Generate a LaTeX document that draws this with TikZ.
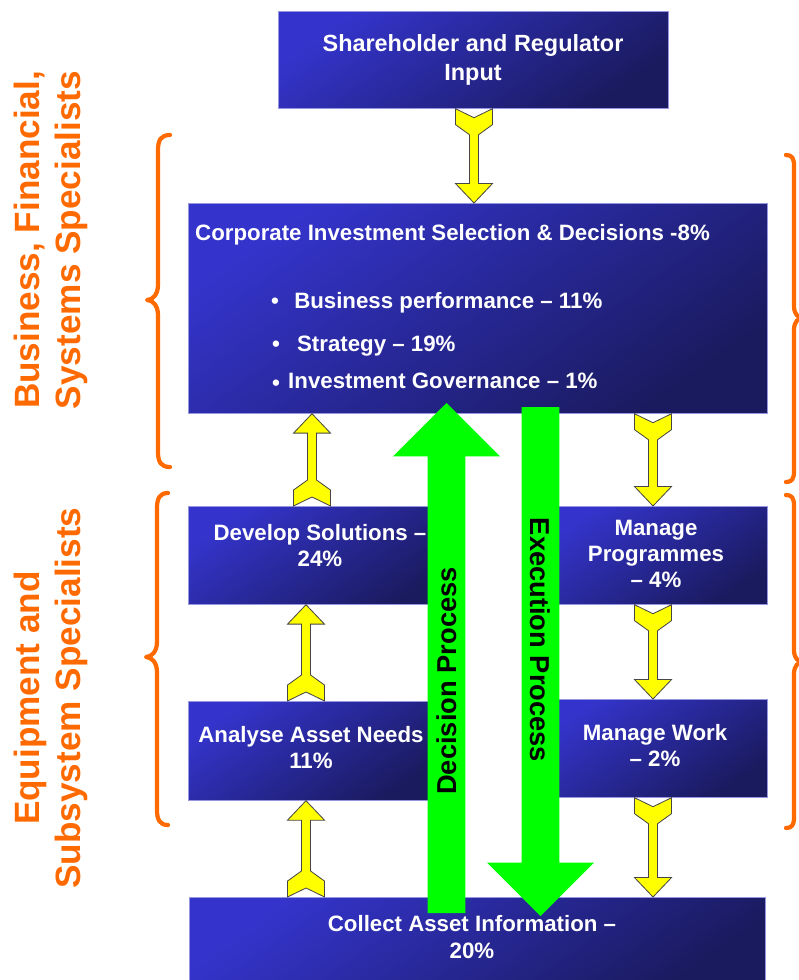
\documentclass[tikz,border=0pt]{standalone}
\usepackage{fontspec}
\setmainfont{Liberation Sans}
\usetikzlibrary{calc}

\definecolor{boxlight}{RGB}{52,52,204}
\definecolor{boxdark}{RGB}{26,26,94}
\definecolor{boxedge}{RGB}{150,150,225}
\definecolor{bracecol}{RGB}{255,106,0}
\definecolor{flowgreen}{RGB}{0,255,0}
\definecolor{linkyellow}{RGB}{255,255,0}
\definecolor{linkedge}{RGB}{70,70,70}

% one drawing unit = 0.03cm
\def\pu{0.03cm}

\tikzset{
  box/.style={rectangle, inner sep=0pt, draw=boxedge, line width=0.6pt,
    top color=boxlight, bottom color=boxdark, shading angle=35},
  lbl/.style={text=white, inner sep=0pt, align=center,
    font=\bfseries\fontsize{19}{22}\selectfont},
  bullettext/.style={text=white, inner sep=0pt, anchor=base west,
    font=\bfseries\fontsize{19}{22}\selectfont},
  flowlbl/.style={text=black, inner sep=0pt,
    font=\bfseries\fontsize{23.3}{26}\selectfont},
  sidelbl/.style={text=bracecol, inner sep=0pt, align=center, rotate=90,
    font=\bfseries\fontsize{30}{35}\selectfont},
  bracesty/.style={draw=bracecol, line width=3.6pt, line cap=round, line join=round},
  linksty/.style={fill=linkyellow, draw=linkedge, line width=0.7pt},
  flowsty/.style={fill=flowgreen},
}

% shaded panel given by its top-left and bottom-right corners
\newcommand\panel[5]{%
  \node[box, anchor=north west, minimum width={(#4-#2)*\pu},
        minimum height={(#5-#3)*\pu}] (#1) at (#2,#3) {};}

% yellow link: notched tail at #1, arrow head at #2 (vertical)
\newcommand\yarr[2]{%
  \draw[linksty] let \p1=(#1), \p2=(#2), \n1={ifthenelse(\y2>\y1,1,-1)} in
    (\x1,{\y1+\n1*7.7pt}) -- ({\x1-15.8pt},\y1) -- ({\x1-15.8pt},{\y1+\n1*13.6pt})
    -- ({\x1-3.9pt},{\y1+\n1*22.2pt}) -- ({\x1-3.9pt},{\y2-\n1*16.6pt})
    -- ({\x1-15.8pt},{\y2-\n1*16.6pt}) -- (\x1,\y2)
    -- ({\x1+15.8pt},{\y2-\n1*16.6pt}) -- ({\x1+3.9pt},{\y2-\n1*16.6pt})
    -- ({\x1+3.9pt},{\y1+\n1*22.2pt}) -- ({\x1+15.8pt},{\y1+\n1*13.6pt})
    -- ({\x1+15.8pt},\y1) -- cycle;}

% broad green process arrow from #1 to #2 (vertical)
\newcommand\garr[2]{%
  \fill[flowsty] let \p1=(#1), \p2=(#2), \n1={ifthenelse(\y2>\y1,1,-1)} in
    ({\x1-16.2pt},\y1) -- ({\x1-16.2pt},{\y2-\n1*45.6pt})
    -- ({\x1-45.8pt},{\y2-\n1*45.6pt}) -- (\x1,\y2)
    -- ({\x1+45.8pt},{\y2-\n1*45.6pt}) -- ({\x1+16.2pt},{\y2-\n1*45.6pt})
    -- ({\x1+16.2pt},\y1) -- cycle;}

\begin{document}
\begin{tikzpicture}[x=0.03cm, y=-0.03cm]
  \fill[white] (0,0) rectangle (798,980);
  \useasboundingbox (0,0) rectangle (798,980);

  % group braces
  \draw[bracesty] (170,135) .. controls (161,135) and (158,140) .. (158,150)
    -- (158,285) .. controls (158,294) and (153,300) .. (147,300)
    .. controls (153,300) and (158,306) .. (158,315)
    -- (158,452) .. controls (158,462) and (161,467) .. (170,467);
  \draw[bracesty] (168,493) .. controls (160,493) and (157,498) .. (157,508)
    -- (157,642) .. controls (157,651) and (152,657) .. (146,657)
    .. controls (152,657) and (157,663) .. (157,672)
    -- (157,810) .. controls (157,820) and (160,825) .. (168,825);
  \draw[bracesty] (786,155) .. controls (792,155) and (794,158) .. (794,166)
    -- (794,306) .. controls (794,314) and (798,318) .. (803,318)
    .. controls (798,318) and (794,322) .. (794,330)
    -- (794,471) .. controls (794,479) and (792,482) .. (786,482);
  \draw[bracesty] (786,495) .. controls (792,495) and (794,498) .. (794,506)
    -- (794,650) .. controls (794,658) and (798,662) .. (803,662)
    .. controls (798,662) and (794,666) .. (794,674)
    -- (794,817) .. controls (794,825) and (792,828) .. (786,828);

  % side labels
  \node[sidelbl] (tBiz) at (51,240) {Business, Financial,\\Systems Specialists};
  \node[sidelbl] (tEquip) at (51,698) {Equipment and\\Subsystem Specialists};

  % panels
  \panel{share}{278}{11}{668}{108}
  \panel{corp}{188}{203}{767}{413}
  \panel{dev}{188}{506}{452}{604}
  \panel{ana}{188}{701}{438}{800}
  \panel{prog}{545}{506}{767}{604}
  \panel{work}{543}{699}{767}{797}
  \panel{coll}{189}{897}{765}{990}

  % columns of the yellow links
  \coordinate (colTop) at (474,0);
  \coordinate (colL) at (306,0);
  \coordinate (colLu) at (312,0);
  \coordinate (colR) at (653,0);

  \yarr{share.south -| colTop}{corp.north -| colTop}
  \yarr{dev.north -| colLu}{corp.south -| colLu}
  \yarr{ana.north -| colL}{dev.south -| colL}
  \yarr{coll.north -| colL}{ana.south -| colL}
  \yarr{corp.south -| colR}{prog.north -| colR}
  \yarr{prog.south -| colR}{work.north -| colR}
  \yarr{work.south -| colR}{coll.north -| colR}

  % panel texts (base anchor = baseline of the last line)
  \node[lbl, font=\bfseries\fontsize{20}{24}\selectfont, anchor=base] (tShare) at (473,80)
    {Shareholder and Regulator\\Input};
  \node[bullettext] (tCorp) at (195,240) {Corporate Investment Selection \& Decisions -8\%};
  \node[bullettext] (tB1) at (271,308) {•\hspace{13pt}Business performance – 11\%};
  \node[bullettext] (tB2) at (272,351) {•\hspace{14.6pt}Strategy – 19\%};
  \node[bullettext] (tB3) at (272,388) {\raisebox{-2pt}{•}\hspace{7pt}Investment Governance – 1\%};
  \node[lbl, anchor=base] (tDev) at (320,566) {Develop Solutions –\\24\%};
  \node[lbl, anchor=base] (tAna) at (311,768) {Analyse Asset Needs\\11\%};
  \node[lbl, anchor=base] (tProg) at (656,587) {Manage\\Programmes\\– 4\%};
  \node[lbl, anchor=base] (tWork) at (655,766) {Manage Work\\– 2\%};
  \node[lbl, font=\bfseries\fontsize{19}{23}\selectfont, anchor=base] (tColl) at (472,958)
    {Collect Asset Information –\\20\%};

  % decision and execution flows
  \coordinate (dTail) at (446.5,913);
  \coordinate (dTip) at (446.5,403);
  \coordinate (eTail) at (540.5,407);
  \coordinate (eTip) at (540.5,916);
  \garr{dTail}{dTip}
  \garr{eTail}{eTip}
  \node[flowlbl, rotate=90] (tDecision) at (446.5,681) {Decision Process};
  \node[flowlbl, rotate=-90] (tExecution) at (540.5,640) {Execution Process};
\end{tikzpicture}
\end{document}
